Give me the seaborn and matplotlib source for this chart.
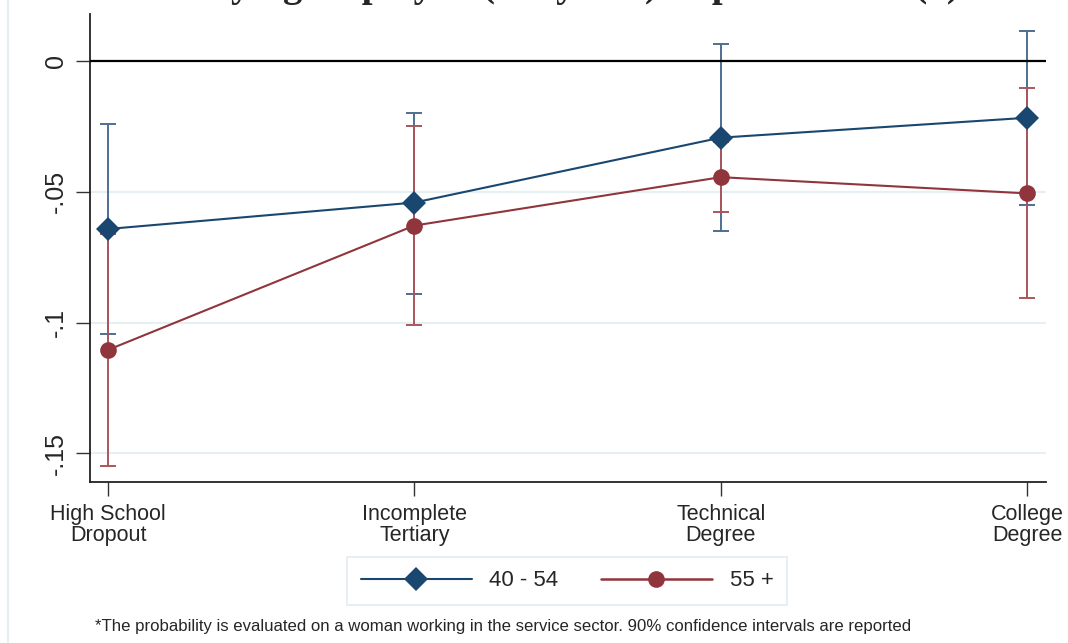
import matplotlib
matplotlib.use('Agg')
import matplotlib.pyplot as plt
from matplotlib import font_manager
from matplotlib.lines import Line2D
import pandas as pd
import seaborn as sns

# education levels on the x axis
categories = ['High School\nDropout', 'Incomplete\nTertiary',
              'Technical\nDegree', 'College\nDegree']
groups = ['40 - 54', '55 +']

# point estimates and 90% CI bounds
est_40_54 = [-0.0642, -0.0541, -0.0293, -0.0217]
lo_40_54 = [-0.1043, -0.0891, -0.0648, -0.0550]
hi_40_54 = [-0.0241, -0.0198, 0.0065, 0.0116]

est_55 = [-0.1104, -0.0629, -0.0444, -0.0506]
lo_55 = [-0.1548, -0.1009, -0.0578, -0.0907]
hi_55 = [-0.0660, -0.0248, -0.0310, -0.0103]

yticks = [0, -0.05, -0.10, -0.15]
ytick_labels = ['0', '-.05', '-.1', '-.15']

title = 'Staying employed (+ 5 years) - Specification (1)'
note = ('*The probability is evaluated on a woman working in the service sector. '
        '90% confidence intervals are reported')

navy = '#1a476f'
maroon = '#90353b'
navy_ci = '#4d6f93'
maroon_ci = '#a9565c'
grid_col = '#e6eff2'


def build_frame():
    rows = []
    for g, est, lo, hi in [(groups[0], est_40_54, lo_40_54, hi_40_54),
                           (groups[1], est_55, lo_55, hi_55)]:
        for i, cat in enumerate(categories):
            rows.append({'age': g, 'pos': i, 'est': est[i], 'lo': lo[i], 'hi': hi[i]})
    return pd.DataFrame(rows)


if __name__ == '__main__':
    sns.set_theme(style='white')
    installed = {f.name for f in font_manager.fontManager.ttflist}
    plt.rcParams['font.family'] = ['Liberation Sans', 'DejaVu Sans']
    narrow = 'Liberation Sans Narrow' if 'Liberation Sans Narrow' in installed else 'Liberation Sans'

    df = build_frame()

    fig = plt.figure(figsize=(10.68, 6.43), dpi=100)
    ax = fig.add_axes([90 / 1068, 1 - 482 / 643, (1046 - 90) / 1068, (482 - 14) / 643])

    # confidence intervals
    for g, col, z in [(groups[0], navy_ci, 2), (groups[1], maroon_ci, 3)]:
        d = df[df['age'] == g]
        ax.errorbar(d['pos'], d['est'],
                    yerr=[d['est'] - d['lo'], d['hi'] - d['est']],
                    fmt='none', ecolor=col, elinewidth=1.4, capsize=6,
                    capthick=1.4, zorder=z)

    sns.lineplot(data=df, x='pos', y='est', hue='age', style='age',
                 hue_order=groups[::-1], style_order=groups[::-1],
                 palette={groups[0]: navy, groups[1]: maroon},
                 markers={groups[0]: 'D', groups[1]: 'o'}, dashes=False,
                 markersize=12, markeredgewidth=0, linewidth=1.5,
                 legend=False, ax=ax, zorder=5)
    # draw the 40-54 series on top
    for line in ax.lines:
        if line.get_color() == navy:
            line.set_zorder(6)

    ax.axhline(0, color='black', lw=1.6, zorder=4)

    ax.set_xlim(-0.059, 3.062)
    ax.set_ylim(-0.1609, 0.01796)
    ax.set_xticks(range(len(categories)))
    ax.set_xticklabels(categories, fontsize=15.5, family=narrow, linespacing=1.0)
    ax.set_yticks(yticks)
    ax.set_yticklabels(ytick_labels, fontsize=18, rotation=90, va='center')
    ax.set_xlabel('')
    ax.set_ylabel('')
    ax.tick_params(axis='both', direction='out', length=10, width=1.0,
                   color='#333333', bottom=True, left=True, pad=6)
    for y in yticks[1:]:
        ax.axhline(y, color=grid_col, lw=1.5, zorder=0)

    sns.despine(ax=ax, top=True, right=True)
    for s in ['left', 'bottom']:
        ax.spines[s].set_color('#222222')
        ax.spines[s].set_linewidth(1.3)

    handles = [Line2D([], [], color=navy, lw=1.5, marker='D', markersize=12,
                      markeredgewidth=0),
               Line2D([], [], color=maroon, lw=1.8, marker='o', markersize=12,
                      markeredgewidth=0)]
    leg = fig.legend(handles, groups, loc='center', bbox_to_anchor=(567 / 1068, 1 - 581 / 643),
                     ncol=2, fontsize=16, handlelength=5.0, handletextpad=0.8,
                     columnspacing=1.9, frameon=True, fancybox=False,
                     borderpad=0.6, edgecolor='#dde7ec')
    leg.get_frame().set_linewidth(1.2)

    fig.text(95 / 1068, 1 - 627 / 643, note, fontsize=12.1, family=narrow,
             ha='left', va='center')

    # title is cut off at the top of the image, only its descenders show
    fig.text(568 / 1068, 1 + 4 / 643, title, fontsize=28, fontweight='bold',
             family=['Liberation Serif', 'DejaVu Serif'], ha='center', va='baseline')

    fig.add_artist(Line2D([8 / 1068, 8 / 1068], [0, 1], color='#e8eff2', lw=1.5))

    fig.savefig('out.png', dpi=100)
